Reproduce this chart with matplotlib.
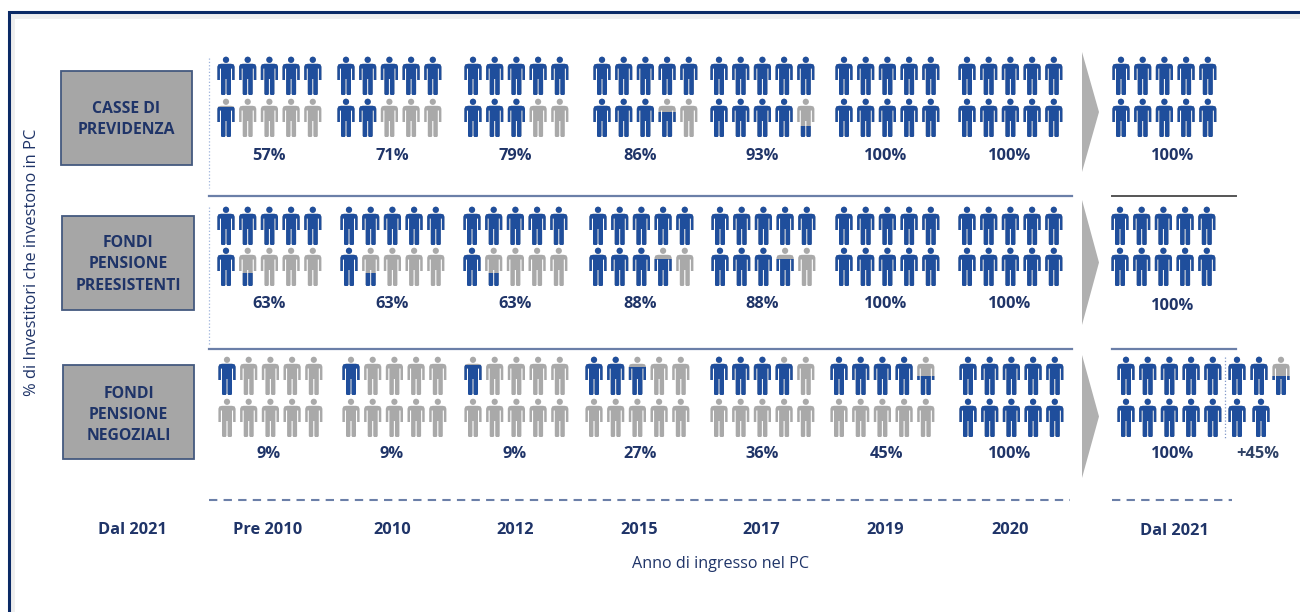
import matplotlib
matplotlib.use("Agg")
import matplotlib.pyplot as plt
from matplotlib.patches import Circle, PathPatch, Polygon, Rectangle
from matplotlib.path import Path
from matplotlib.transforms import Affine2D

plt.rcParams["font.family"] = ["Open Sans", "DejaVu Sans"]

# data
investors = ["CASSE DI\nPREVIDENZA", "FONDI\nPENSIONE\nPREESISTENTI", "FONDI\nPENSIONE\nNEGOZIALI"]
years = ["Pre 2010", "2010", "2012", "2015", "2017", "2019", "2020"]
casse_pct = ["57%", "71%", "79%", "86%", "93%", "100%", "100%"]
preesistenti_pct = ["63%", "63%", "63%", "88%", "88%", "100%", "100%"]
negoziali_pct = ["9%", "9%", "9%", "27%", "36%", "45%", "100%"]
# how many of the 10 figures are blue (partial figures fill from the feet)
casse_filled = [5.8, 7, 8, 8.65, 9.3, 10, 10]
preesistenti_filled = [6.35, 6.35, 6.35, 8.7, 8.7, 10, 10]
negoziali_filled = [0.85, 0.85, 0.8, 2.75, 3.85, 4.5, 10]
final_pct = ["100%", "100%", "100%"]
final_label = "Dal 2021"
extra_pct = "+45%"
extra_filled = [1, 1, 0.5, 1, 1]

BLUE = "#1f4e9c"
GREY = "#a9a9a9"
NAVY = "#1f3468"
FS = 11.8

fig = plt.figure(figsize=(13, 6.12), dpi=100)
ax = fig.add_axes([0, 0, 1, 1])
ax.set_xlim(0, 1300)
ax.set_ylim(612, 0)
ax.axis("off")

# person outline, origin at top centre of the head, 17 wide and 38 tall
body = Path(
    [(-5, 6.8), (5, 6.8), (7.6, 7.4), (8.6, 9.7), (8.6, 23), (6.1, 23), (6.1, 11.5), (5.0, 11.5),
     (5.0, 36.8), (4.3, 38), (1.3, 38), (0.55, 36.8), (0.55, 22), (-0.55, 22),
     (-0.55, 36.8), (-1.3, 38), (-4.3, 38), (-5.0, 36.8), (-5.0, 11.5), (-6.1, 11.5),
     (-6.1, 23), (-8.6, 23), (-8.6, 9.7), (-7.6, 7.4), (-5, 6.8)],
    closed=True,
)


def draw_person(x, y, fill):
    """Draw one figure: grey, with the blue part clipped from the feet up."""
    for colour, frac in ((GREY, None), (BLUE, fill)):
        if frac == 0:
            continue
        parts = [
            PathPatch(body.transformed(Affine2D().translate(x, y)), fc=colour, ec="none"),
            Circle((x, y + 2.8), 3.1, fc=colour, ec="none"),
        ]
        for p in parts:
            ax.add_patch(p)
            if frac is not None and frac < 1:
                clip = Rectangle((x - 10, y + 38 * (1 - frac)), 20, 38 * frac, transform=ax.transData)
                p.set_clip_path(clip)


def draw_group(xs, ys, filled):
    """Two rows of five figures, filled row by row."""
    for i in range(10):
        fill = max(0, min(1, filled - i))
        draw_person(xs + (i % 5) * 21.7, ys[i // 5], fill)


# frame
ax.plot([12, 12, 1300], [612, 15.5, 15.5], color="#eeeeee", lw=3.5)
ax.plot([9, 9, 1300], [612, 12, 12], color="#0b2a66", lw=2.2, solid_joinstyle="miter")

# rows
row_tops = [(57, 99), (207, 248), (357, 399)]
row_pct = [casse_pct, preesistenti_pct, negoziali_pct]
row_filled = [casse_filled, preesistenti_filled, negoziali_filled]
row_starts = [
    [226, 346, 473, 602, 719, 844, 967],
    [226, 349, 472, 598, 720, 844, 967],
    [227, 351, 473, 594, 719, 839, 968],
]
final_starts = [1121, 1120, 1126]
pct_y = [155.5, 304.5, 454.5]
pct_x = [269, 392, 515, 640, 762, 886, 1010]
boxes = [(61, 71, 131, 94), (62, 216, 132, 94), (63, 365, 131, 94)]
box_text_y = [119.5, 264.5, 415]
arrows = [(52, 172), (200, 325), (355, 478)]

for r in range(3):
    x0, y0, w, h = boxes[r]
    ax.add_patch(Rectangle((x0, y0), w, h, fc="#a6a6a6", ec="#44597f", lw=1.3))
    ax.text(x0 + w / 2, box_text_y[r], investors[r], ha="center", va="center", fontsize=11.3,
            fontweight="bold", color=NAVY, linespacing=1.45)
    for c in range(7):
        draw_group(row_starts[r][c], row_tops[r], row_filled[r][c])
        ax.text(pct_x[c], pct_y[r], row_pct[r][c], ha="center", va="center", fontsize=FS,
                fontweight="bold", color=NAVY)
    draw_group(final_starts[r], row_tops[r], 10)
    ax.text(1173, pct_y[r] + (1 if r < 2 else 0), final_pct[r], ha="center", va="center", fontsize=FS,
            fontweight="bold", color=NAVY)
    top, bottom = arrows[r]
    ax.add_patch(Polygon([(1082, top), (1099, (top + bottom) / 2), (1082, bottom)], fc="#b0b0b0", ec="none"))

# extra figures next to the last column
extra_x = [1237, 1259, 1281, 1237, 1261]
extra_y = [357, 357, 357, 399, 399]
for px, py, f in zip(extra_x, extra_y, extra_filled):
    draw_person(px, py, f)
ax.text(1258, 454.5, extra_pct, ha="center", va="center", fontsize=FS, fontweight="bold", color="#2f4266")

# separators
for y in (196, 349):
    ax.plot([209, 1072], [y, y], color="#6b7fa8", lw=1.6)
ax.plot([1112, 1236], [196, 196], color="#555555", lw=1.4)
ax.plot([1112, 1236], [349, 349], color="#6b7fa8", lw=1.6)
ax.plot([209, 1070], [500, 500], color="#6b7fa8", lw=1.5, dashes=(4, 3))
ax.plot([1112, 1232], [500, 500], color="#6b7fa8", lw=1.5, dashes=(4, 3))
ax.plot([209, 209], [58, 188], color="#9db3dc", lw=0.9, ls=":")
ax.plot([209, 209], [207, 345], color="#9db3dc", lw=0.9, ls=":")
ax.plot([1225, 1225], [357, 438], color="#7f96c8", lw=0.9, ls=":")

# bottom labels
label_x = [268, 392, 515, 639, 761, 885, 1010]
ax.text(132, 530.5, final_label, ha="center", va="center", fontsize=FS, fontweight="bold", color=NAVY)
for lx, year in zip(label_x, years):
    ax.text(lx, 530.5, year, ha="center", va="center", fontsize=FS, fontweight="bold", color=NAVY)
ax.text(1174, 531, final_label, ha="center", va="center", fontsize=FS, fontweight="bold", color=NAVY)
ax.text(721, 563.5, "Anno di ingresso nel PC", ha="center", va="center", fontsize=11.6, color=NAVY)
ax.text(32, 262, "% di Investitori che investono in PC", rotation=90, ha="center", va="center",
        fontsize=11.9, color=NAVY)

fig.savefig("out.png", dpi=100)
